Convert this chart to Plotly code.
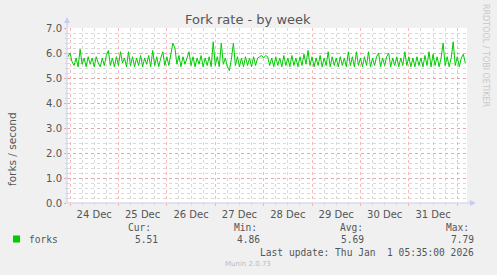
import plotly.graph_objects as go
import pandas as pd

W, H = 497, 275
L, R, T, B = 67, 467, 28, 203  # plot area pixel bounds

start_time = "2025-12-23 23:00"
forks = [
    5.85, 6.0, 5.65, 5.5, 5.8, 5.45, 6.15, 5.55, 5.8, 5.45, 5.85, 5.55, 5.8, 5.45, 5.85, 5.6, 5.45, 5.8, 5.5, 5.9, 6.1, 5.5, 5.8, 5.45,
    5.85, 5.5, 6.05, 5.6, 5.8, 5.45, 6.05, 5.5, 5.85, 5.45, 5.8, 5.5, 5.9, 5.45, 5.8, 5.55, 5.9, 5.45, 6.1, 5.5, 5.85, 5.45, 5.8, 6.05,
    5.5, 5.85, 5.5, 5.95, 6.4, 6.2, 5.55, 5.9, 5.45, 5.85, 5.55, 5.8, 6.05, 5.5, 5.85, 5.45, 5.8, 5.55, 5.9, 5.45, 5.8, 5.5, 5.85, 5.45,
    6.45, 5.5, 5.85, 5.45, 6.4, 5.55, 5.8, 5.45, 5.3, 5.75, 6.4, 5.5, 5.85, 5.45, 5.8, 5.45, 5.85, 5.5, 5.8, 5.45, 5.85, 5.5, 5.8, 5.85,
    5.9, 5.8, 5.9, 5.85, 5.5, 5.8, 5.45, 5.85, 5.5, 5.8, 5.45, 5.9, 5.5, 5.8, 5.45, 5.9, 5.5, 5.8, 5.45, 5.85, 5.5, 5.95, 5.55, 6.1,
    5.5, 5.85, 5.45, 5.8, 5.5, 5.9, 5.45, 5.8, 5.5, 6.05, 5.45, 5.85, 5.5, 5.8, 5.45, 5.85, 5.5, 5.8, 5.45, 6.05, 5.5, 5.85, 5.45, 6.05,
    5.5, 5.8, 5.45, 5.85, 5.5, 6.05, 5.45, 5.8, 5.5, 5.85, 6.0, 5.45, 5.8, 5.5, 5.85, 6.0, 5.45, 5.8, 5.5, 5.85, 5.45, 5.8, 5.5, 6.05,
    5.5, 5.85, 5.45, 5.8, 5.45, 5.85, 5.5, 5.8, 5.45, 5.9, 5.5, 6.05, 5.45, 5.95, 5.5, 5.85, 5.45, 5.8, 6.4, 5.5, 5.85, 5.45, 5.8, 6.45,
    5.5, 5.85, 5.45, 5.8, 5.95, 5.6,
]
times = pd.date_range(start_time, periods=len(forks), freq="h")

x_start = "2025-12-23 22:30"
x_end = "2026-01-01 04:50"
y_ticks = [0, 1, 2, 3, 4, 5, 6, 7]
y_tick_text = ["0.0", "1.0", "2.0", "3.0", "4.0", "5.0", "6.0", "7.0"]

title = "Fork rate - by week"
y_label = "forks / second"
series_name = "forks"
stat_heads = ["Cur:", "Min:", "Avg:", "Max:"]
stat_vals = ["5.51", "4.86", "5.69", "7.79"]
last_update = "Last update: Thu Jan  1 05:35:00 2026"
footer = "Munin 2.0.73"
side_text = "RRDTOOL / TOBI OETIKER"

def px(x):
    return (x - L) / (R - L)

def py(y):
    return (B - y) / (B - T)

fig = go.Figure()
fig.add_trace(go.Scatter(x=times, y=forks, mode="lines",
                         line=dict(color="#00CC00", width=1), name=series_name,
                         showlegend=False, hoverinfo="skip"))

major = "rgba(235,130,130,0.55)"
minor = "rgba(180,180,180,0.5)"
txt = "#555555"

fig.update_layout(
    width=W, height=H,
    margin=dict(l=L, r=W - R, t=T, b=H - B),
    paper_bgcolor="#F0F0F0", plot_bgcolor="#FFFFFF",
    font=dict(family="DejaVu Sans", size=10, color=txt),
    xaxis=dict(range=[x_start, x_end], type="date",
               tick0="2025-12-24", dtick=86400000, ticklabelmode="period",
               tickformat="%d %b", showgrid=True, gridcolor=major, griddash="dot",
               gridwidth=1, ticks="outside", ticklen=2, tickcolor=major,
               tickfont=dict(size=10, color=txt), zeroline=False, showline=False,
               minor=dict(dtick=21600000, tick0="2025-12-24", showgrid=True,
                          gridcolor=minor, griddash="dot", gridwidth=1,
                          ticks="outside", ticklen=1, tickcolor=minor)),
    yaxis=dict(range=[0, 7], tickvals=y_ticks, ticktext=y_tick_text,
               showgrid=True, gridcolor=major, griddash="dot", gridwidth=1,
               ticks="outside", ticklen=2, tickcolor=major,
               tickfont=dict(size=10, color=txt), zeroline=False, showline=False,
               minor=dict(dtick=0.2, showgrid=True, gridcolor=minor, griddash="dot",
                          gridwidth=1, ticks="outside", ticklen=1, tickcolor=minor)),
)

axis_col = "#C8CCF0"
shapes = [
    dict(type="line", xref="paper", yref="paper", x0=0, x1=0, y0=0, y1=py(23), line=dict(color=axis_col, width=1)),
    dict(type="line", xref="paper", yref="paper", x0=0, x1=px(470), y0=0, y1=0, line=dict(color=axis_col, width=1)),
    dict(type="path", xref="paper", yref="paper",
         path=f"M {px(64)} {py(23)} L {px(70)} {py(23)} L {px(67)} {py(17)} Z",
         fillcolor=axis_col, line=dict(width=0)),
    dict(type="path", xref="paper", yref="paper",
         path=f"M {px(470)} {py(200)} L {px(470)} {py(206)} L {px(476)} {py(203)} Z",
         fillcolor=axis_col, line=dict(width=0)),
    dict(type="rect", xref="paper", yref="paper", x0=px(13), x1=px(20), y0=py(242.5), y1=py(235.5),
         fillcolor="#00CC00", line=dict(width=0)),
]
fig.update_layout(shapes=shapes)

mono = "DejaVu Sans Mono"
ann = []
def add(text, x, y, size=10, family="DejaVu Sans", color=txt, xanchor="center", textangle=0):
    ann.append(dict(text=text, x=px(x), y=py(y), xref="paper", yref="paper", showarrow=False,
                    xanchor=xanchor, yanchor="middle", textangle=textangle,
                    font=dict(size=size, family=family, color=color)))

add(title, 248, 19, size=13)
add(y_label, 12, 149, size=10.5, textangle=-90)
add(side_text, 485, 55, size=8, color="#C8C8C8", textangle=90)
add(series_name, 27, 239, size=9.6, family=mono, xanchor="left")
head_right = [153, 259, 365, 471]
val_right = [160, 262, 366, 476]
for h, v, hr, vr in zip(stat_heads, stat_vals, head_right, val_right):
    add(h, hr, 227, size=9.6, family=mono, xanchor="right")
    add(v, vr, 239, size=9.6, family=mono, xanchor="right")
add(last_update, 476, 252, size=9.6, family=mono, xanchor="right")
add(footer, 248, 264, size=7, color="#BBBBBB")
fig.update_layout(annotations=ann)

fig.write_html("out.html")
